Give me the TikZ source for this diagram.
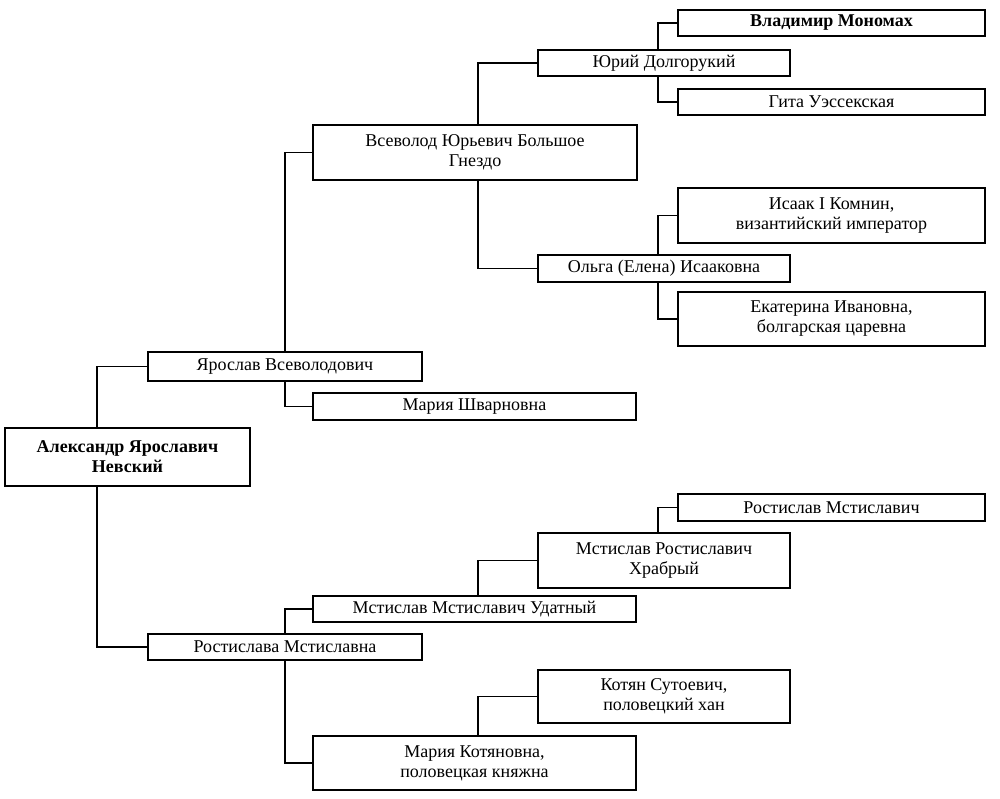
\documentclass[tikz,border=0pt]{standalone}
\usepackage{fontspec}
\setmainfont{Liberation Serif}
\begin{document}
\begin{tikzpicture}[x=1pt,y=-1pt,
 b/.style={draw,line width=1.1pt,inner sep=0pt,align=center,font=\fontsize{18}{20}\selectfont},
 l/.style={line width=1.1pt}]
\useasboundingbox (0,0) rectangle (1000,799);
\newcommand\bx[6]{\node[b,minimum width=#4-#2,minimum height=#5-#3] (#1) at ({(#2+#4)/2},{(#3+#5)/2}) {#6};}
\bx{alex}{5}{428}{250}{486}{\textbf{Александр Ярославич}\\\textbf{Невский}}
\bx{yar}{148}{352}{422}{381}{Ярослав Всеволодович}
\bx{msh}{313}{393}{636}{420}{Мария Шварновна}
\bx{vse}{313}{125}{637}{180}{Всеволод Юрьевич Большое\\Гнездо}
\bx{yur}{538}{50}{790}{76}{Юрий Долгорукий}
\bx{vla}{678}{10}{985}{36}{\textbf{Владимир Мономах}}
\bx{git}{678}{89}{985}{115}{Гита Уэссекская}
\bx{olg}{538}{255}{790}{282}{Ольга (Елена) Исааковна}
\bx{isa}{678}{188}{985}{243}{Исаак I Комнин,\\византийский император}
\bx{eka}{678}{292}{985}{346}{Екатерина Ивановна,\\болгарская царевна}
\bx{ros}{148}{634}{422}{660}{Ростислава Мстиславна}
\bx{uda}{313}{596}{636}{622}{Мстислав Мстиславич Удатный}
\bx{mro}{538}{533}{790}{588}{Мстислав Ростиславич\\Храбрый}
\bx{rms}{678}{494}{985}{521}{Ростислав Мстиславич}
\bx{kot}{538}{670}{790}{723}{Котян Сутоевич,\\половецкий хан}
\bx{mko}{313}{736}{636}{790}{Мария Котяновна,\\половецкая княжна}
\draw[l] (yar.west) -| (97,428);
\draw[l] (97,486) |- (ros.west);
\draw[l] (vse.west) -| (285,352);
\draw[l] (285,381) |- (msh.west);
\draw[l] (yur.west) -| (478,125);
\draw[l] (478,180) |- (olg.west);
\draw[l] (vla.west) -| (658,50);
\draw[l] (658,76) |- (git.west);
\draw[l] (isa.west) -| (658,255);
\draw[l] (658,282) |- (eka.west);
\draw[l] (uda.west) -| (285,634);
\draw[l] (285,660) |- (mko.west);
\draw[l] (mro.west) -| (478,596);
\draw[l] (rms.west) -| (658,533);
\draw[l] (kot.west) -| (478,736);
\end{tikzpicture}
\end{document}
